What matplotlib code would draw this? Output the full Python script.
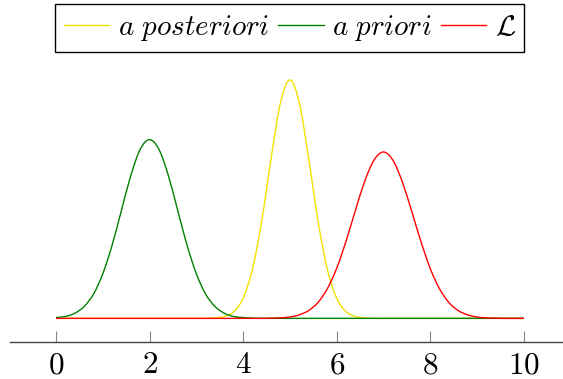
import matplotlib as mpl
mpl.use('Agg')
mpl.rcParams['mathtext.fontset'] = 'cm'
mpl.rcParams['mathtext.rm'] = 'serif'
import matplotlib.pyplot as plt
from matplotlib.path import Path
from matplotlib.patches import PathPatch
import numpy as np

# sample grid, 0 to 10 in steps of 0.2
x_vals = np.linspace(0, 10, 51)

# values (one row = 10 samples)
posterior = [0, 0, 0, 0, 0, 0, 0, 0, 0, 0,
             0, 0, 0, 0, 0, 0, 0, 0.002, 0.007, 0.025,
             0.075, 0.183, 0.364, 0.597, 0.803, 0.887, 0.803, 0.597, 0.364, 0.183,
             0.075, 0.025, 0.007, 0.002, 0, 0, 0, 0, 0, 0,
             0, 0, 0, 0, 0, 0, 0, 0, 0, 0,
             0]
prior = [0.003, 0.007, 0.019, 0.044, 0.090, 0.166, 0.273, 0.403, 0.532, 0.629,
         0.665, 0.629, 0.532, 0.403, 0.273, 0.166, 0.090, 0.044, 0.019, 0.007,
         0.003, 0.001, 0, 0, 0, 0, 0, 0, 0, 0,
         0, 0, 0, 0, 0, 0, 0, 0, 0, 0,
         0, 0, 0, 0, 0, 0, 0, 0, 0, 0,
         0]
likelihood = [0, 0, 0, 0, 0, 0, 0, 0, 0, 0,
              0, 0, 0, 0, 0, 0, 0, 0, 0, 0,
              0, 0, 0, 0.001, 0.002, 0.005, 0.013, 0.029, 0.059, 0.110,
              0.186, 0.287, 0.401, 0.510, 0.589, 0.619, 0.589, 0.510, 0.401, 0.287,
              0.186, 0.110, 0.059, 0.029, 0.013, 0.005, 0.002, 0.001, 0, 0,
              0]

labels = [r'$a\ posteriori$', r'$a\ priori$', r'$\mathcal{L}$']
colors = ['#f2e100', '#008000', '#ff0000']
xticks = [0, 2, 4, 6, 8, 10]


def smooth_line(ax, x, y, color, label):
    # draw through the samples with bezier pieces (like pgfplots "smooth")
    pts = np.column_stack([x, y])
    ext = np.vstack([pts[0], pts, pts[-1]])
    verts = [pts[0]]
    codes = [Path.MOVETO]
    for i in range(len(pts) - 1):
        p0, p1, p2, p3 = ext[i], ext[i+1], ext[i+2], ext[i+3]
        verts += [p1 + (p2 - p0) / 6, p2 - (p3 - p1) / 6, p2]
        codes += [Path.CURVE4] * 3
    ax.add_patch(PathPatch(Path(verts, codes), fill=False, edgecolor=color, lw=1.0, zorder=2))
    ax.plot([], [], color=color, lw=1.0, label=label)


fig = plt.figure(figsize=(5.63, 3.79), dpi=100)
ax = fig.add_axes([0.0178, 0.0976, 0.9822, 0.7177])

for y, color, label in zip([posterior, prior, likelihood], colors, labels):
    smooth_line(ax, x_vals, y, color, label)

ax.set_xlim(-0.984, 10.84)
ax.set_ylim(-0.088, 0.924)

for s in ['top', 'right', 'left']:
    ax.spines[s].set_visible(False)
ax.spines['bottom'].set_color('#444444')
ax.spines['bottom'].set_linewidth(1.0)
ax.set_yticks([])
ax.set_xticks(xticks)
ax.set_xticklabels([r'$%d$' % t for t in xticks], fontsize=22.5)
ax.tick_params(axis='x', direction='in', length=8, width=0.8, color='#888888', pad=6)

leg = ax.legend(loc='upper center', bbox_to_anchor=(0.515, 0.989), bbox_transform=fig.transFigure,
                ncol=3, fancybox=False, edgecolor='black', framealpha=1, fontsize=21,
                handlelength=1.55, handletextpad=0.3, columnspacing=0.3, borderpad=0.3,
                borderaxespad=0)
leg.get_frame().set_linewidth(1.0)

plt.savefig('out.png', dpi=100)
